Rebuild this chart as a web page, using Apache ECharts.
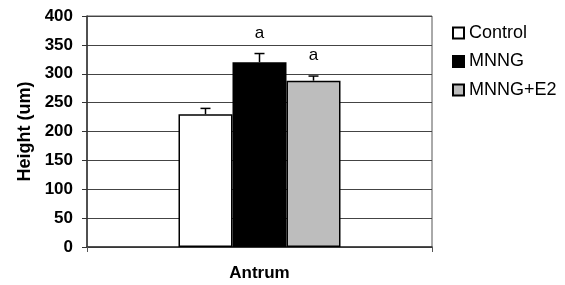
<!DOCTYPE html>
<html><head><meta charset="utf-8">
<script src="https://cdn.jsdelivr.net/npm/echarts@6/dist/echarts.min.js"></script>
<style>html,body{margin:0;padding:0;background:#fff}#c{width:565px;height:285px}</style>
</head><body><div id="c"></div>
<script>
const categories = ['Antrum'];
const seriesNames = ['Control', 'MNNG', 'MNNG+E2'];
const means = [230, 320, 288];
const errors = [10, 15, 8];
const sigLabels = ['', 'a', 'a'];
const yTicks = [0, 50, 100, 150, 200, 250, 300, 350, 400];

const colors = ['#ffffff', '#000000', '#bdbdbd'];
const FONT = '"Liberation Sans", Arial, sans-serif';
const BW = 54;
const chart = echarts.init(document.getElementById('c'));
const barSeries = seriesNames.map((n, i) => ({
  name: n, type: 'bar', barWidth: BW, barGap: '0%',
  data: [means[i]],
  itemStyle: { color: colors[i], borderColor: '#000', borderWidth: 1.5 },
  z: 2
}));
const errSeries = {
  type: 'custom', silent: true, z: 3,
  data: means.map((m, i) => [0, m, m + errors[i], i]),
  renderItem: function (params, api) {
    const i = api.value(3);
    const p0 = api.coord([0, api.value(1)]);
    const p1 = api.coord([0, api.value(2)]);
    const x = p0[0] + (i - 1) * BW;
    const children = [
      { type: 'line', shape: { x1: x, y1: p0[1], x2: x, y2: p1[1] }, style: { stroke: '#000', lineWidth: 1.5 } },
      { type: 'line', shape: { x1: x - 5, y1: p1[1], x2: x + 5, y2: p1[1] }, style: { stroke: '#000', lineWidth: 1.5 } }
    ];
    const lab = sigLabels[i];
    if (lab) {
      children.push({ type: 'text', x: x, y: p1[1] - 12, style: { text: lab, fill: '#000', font: '17px ' + FONT, align: 'center', verticalAlign: 'bottom' } });
    }
    return { type: 'group', children: children };
  }
};
chart.setOption({
  animation: false,
  backgroundColor: '#fff',
  grid: { left: 87, right: 133, top: 16, bottom: 38, show: true, borderColor: '#555', borderWidth: 1, outerBoundsMode: 'none', containLabel: false },
  legend: {
    data: seriesNames, orient: 'vertical', left: 447, top: 19, itemWidth: 11, itemHeight: 11, itemGap: 10.5,
    icon: 'rect',
    textStyle: { fontSize: 18, lineHeight: 18, color: '#000', fontFamily: FONT, padding: [0, 0, 0, 0] }
  },
  xAxis: {
    type: 'category', data: categories,
    name: categories[0], nameLocation: 'middle', nameGap: 18,
    nameTextStyle: { fontSize: 17, fontWeight: 'bold', color: '#000', fontFamily: FONT },
    axisLabel: { show: false },
    axisLine: { lineStyle: { color: '#333', width: 1.5 } },
    axisTick: { show: true, length: 5, lineStyle: { color: '#555' } }
  },
  yAxis: {
    type: 'value', min: 0, max: 400, interval: 50,
    name: 'Height (um)', nameLocation: 'middle', nameGap: 53,
    nameTextStyle: { fontSize: 18, fontWeight: 'bold', color: '#000', fontFamily: FONT },
    axisLine: { show: true, lineStyle: { color: '#333', width: 1.5 } },
    axisTick: { show: true, length: 5, lineStyle: { color: '#333' } },
    axisLabel: { fontSize: 17, fontWeight: 'bold', color: '#000', fontFamily: FONT, margin: 14,
      formatter: v => yTicks.includes(v) ? String(v) : '' },
    splitLine: { lineStyle: { color: '#444', width: 1 } }
  },
  series: [...barSeries, errSeries]
});
</script></body></html>
